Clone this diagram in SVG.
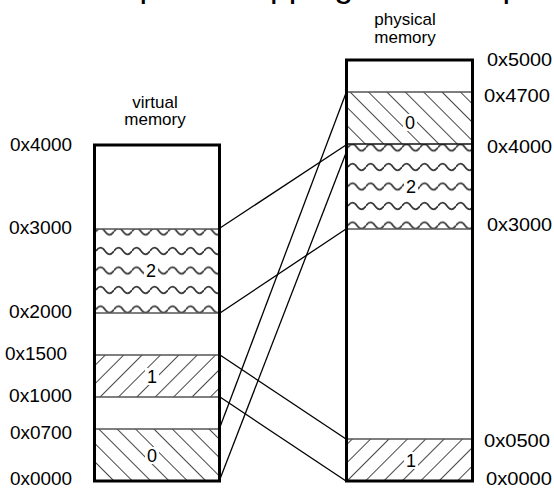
<svg xmlns="http://www.w3.org/2000/svg" width="554" height="492" viewBox="0 0 554 492">
  <style>
    text { font-family: "Liberation Sans", Arial, sans-serif; fill: #000; }
    .title { font-size: 34px; }
    .head { font-size: 17px; text-anchor: middle; }
    .addr { font-size: 18px; }
    .seg { font-size: 18px; text-anchor: middle; }
    .frame { fill: none; stroke: #000; stroke-width: 3; }
    .bound { stroke: #555; stroke-width: 1.4; }
    .bound-dark { stroke: #111; stroke-width: 1.4; }
    .map { stroke: #000; stroke-width: 1.3; fill: none; }
    .tag { fill: #fff; }
  </style>
  <defs>
    <!-- "\" hatch for segment 0 -->
    <pattern id="hatch-back" patternUnits="userSpaceOnUse" width="13" height="13" patternTransform="rotate(-45)">
      <line x1="0" y1="0" x2="0" y2="13" stroke="#333" stroke-width="1.8"/>
    </pattern>
    <!-- "/" hatch for segment 1 -->
    <pattern id="hatch-fwd" patternUnits="userSpaceOnUse" width="13" height="13" patternTransform="rotate(45)">
      <line x1="0" y1="0" x2="0" y2="13" stroke="#333" stroke-width="1.8"/>
    </pattern>
    <!-- wavy rows for segment 2 -->
    <pattern id="wave-v" patternUnits="userSpaceOnUse" width="18" height="19.5" patternTransform="translate(96,231.5)">
      <path d="M0,0 Q4.5,-6.5 9,0 T18,0" fill="none" stroke="#333" stroke-width="1.7"/>
      <path d="M0,19.5 Q4.5,13 9,19.5 T18,19.5" fill="none" stroke="#333" stroke-width="1.7"/>
    </pattern>
    <pattern id="wave-p" patternUnits="userSpaceOnUse" width="18" height="19.5" patternTransform="translate(348,147.5)">
      <path d="M0,0 Q4.5,-6.5 9,0 T18,0" fill="none" stroke="#333" stroke-width="1.7"/>
      <path d="M0,19.5 Q4.5,13 9,19.5 T18,19.5" fill="none" stroke="#333" stroke-width="1.7"/>
    </pattern>
  </defs>

  <rect width="554" height="492" fill="#fff"/>

  <!-- title, mostly above the top edge -->
  <text class="title" x="-11.7" y="-3">Address space mapping: an example</text>

  <!-- virtual address space -->
  <g id="virtual-memory">
    <text class="head" x="155" y="108">virtual</text>
    <text class="head" x="155" y="125">memory</text>
    <rect x="96" y="229" width="123" height="84" fill="url(#wave-v)"/>
    <rect x="96" y="355" width="123" height="42" fill="url(#hatch-fwd)"/>
    <rect x="96" y="429" width="123" height="52" fill="url(#hatch-back)"/>
    <line class="bound" x1="96" y1="229" x2="219" y2="229"/>
    <line class="bound" x1="96" y1="313" x2="219" y2="313"/>
    <line class="bound" x1="96" y1="355" x2="219" y2="355"/>
    <line class="bound" x1="96" y1="397" x2="219" y2="397"/>
    <line class="bound" x1="96" y1="429" x2="219" y2="429"/>
    <rect class="frame" x="94.5" y="145" width="125" height="336"/>
    <rect class="tag" x="144" y="262" width="14" height="17"/>
    <text class="seg" x="151" y="277">2</text>
    <rect class="tag" x="145" y="368" width="14" height="17"/>
    <text class="seg" x="152" y="383">1</text>
    <rect class="tag" x="145" y="447" width="14" height="17"/>
    <text class="seg" x="152" y="462">0</text>
    <text class="addr" x="10" y="151" textLength="62" lengthAdjust="spacingAndGlyphs">0x4000</text>
    <text class="addr" x="9" y="234" textLength="63" lengthAdjust="spacingAndGlyphs">0x3000</text>
    <text class="addr" x="9" y="318" textLength="63" lengthAdjust="spacingAndGlyphs">0x2000</text>
    <text class="addr" x="5" y="360" textLength="62" lengthAdjust="spacingAndGlyphs">0x1500</text>
    <text class="addr" x="9" y="402" textLength="63" lengthAdjust="spacingAndGlyphs">0x1000</text>
    <text class="addr" x="10" y="439" textLength="62" lengthAdjust="spacingAndGlyphs">0x0700</text>
    <text class="addr" x="10" y="485" textLength="62" lengthAdjust="spacingAndGlyphs">0x0000</text>
  </g>

  <!-- physical address space -->
  <g id="physical-memory">
    <text class="head" x="405" y="25">physical</text>
    <text class="head" x="405" y="43">memory</text>
    <rect x="348" y="92" width="124" height="52" fill="url(#hatch-back)"/>
    <rect x="348" y="144" width="124" height="85" fill="url(#wave-p)"/>
    <rect x="348" y="439" width="124" height="42" fill="url(#hatch-fwd)"/>
    <line class="bound" x1="348" y1="92" x2="472" y2="92"/>
    <line class="bound-dark" x1="348" y1="144" x2="472" y2="144"/>
    <line class="bound" x1="348" y1="229" x2="472" y2="229"/>
    <line class="bound" x1="348" y1="439" x2="472" y2="439"/>
    <rect class="frame" x="346.5" y="60" width="126" height="421"/>
    <rect class="tag" x="403" y="114" width="14" height="17"/>
    <text class="seg" x="410" y="129">0</text>
    <rect class="tag" x="404" y="180" width="14" height="17"/>
    <text class="seg" x="411" y="193">2</text>
    <rect class="tag" x="404" y="452" width="14" height="17"/>
    <text class="seg" x="411" y="467">1</text>
    <text class="addr" x="487" y="66" textLength="65" lengthAdjust="spacingAndGlyphs">0x5000</text>
    <text class="addr" x="484" y="102" textLength="66" lengthAdjust="spacingAndGlyphs">0x4700</text>
    <text class="addr" x="487" y="153" textLength="65" lengthAdjust="spacingAndGlyphs">0x4000</text>
    <text class="addr" x="487" y="231" textLength="65" lengthAdjust="spacingAndGlyphs">0x3000</text>
    <text class="addr" x="484" y="447" textLength="66" lengthAdjust="spacingAndGlyphs">0x0500</text>
    <text class="addr" x="486" y="485" textLength="66" lengthAdjust="spacingAndGlyphs">0x0000</text>
  </g>

  <!-- mapping connectors: virtual segment edges to physical frame edges -->
  <g id="connectors">
    <line class="map" x1="220" y1="228" x2="346" y2="145"/>
    <line class="map" x1="220" y1="313" x2="346" y2="229"/>
    <line class="map" x1="220" y1="355" x2="346" y2="439"/>
    <line class="map" x1="220" y1="397" x2="346" y2="481"/>
    <line class="map" x1="220" y1="427" x2="346" y2="93"/>
    <line class="map" x1="220" y1="479" x2="346" y2="153"/>
  </g>
</svg>
